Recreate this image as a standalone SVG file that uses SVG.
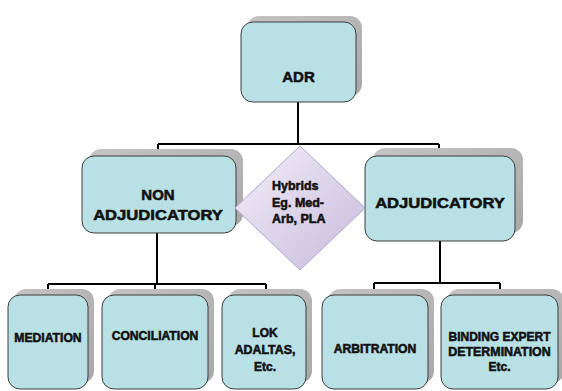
<svg xmlns="http://www.w3.org/2000/svg" width="562" height="391" viewBox="0 0 562 391">
<defs>
<linearGradient id="sh" x1="0" y1="0" x2="1" y2="1">
<stop offset="0" stop-color="#c4c4c4"/>
<stop offset="1" stop-color="#a8a8a8"/>
</linearGradient>
<linearGradient id="dg" x1="0" y1="0" x2="1" y2="1">
<stop offset="0" stop-color="#f2eef8"/>
<stop offset="1" stop-color="#c6bbdc"/>
</linearGradient>
<style>
.shadow{fill:url(#sh);}
.box{fill:#b9e1e5;stroke:#3c3c3c;stroke-width:1;}
text{font-family:"Liberation Sans",Arial,sans-serif;font-weight:bold;fill:#111;stroke:#111;stroke-width:0.55;text-anchor:middle;}
.big{font-size:15px;}
.sm{font-size:12px;}
.dia{font-size:12.5px;text-anchor:start;}
.conn{fill:none;stroke:#000;stroke-width:2;}
</style>
</defs>
<rect width="562" height="391" fill="#fff"/>
<g id="connectors">
<path class="conn" d="M298,102 V144 M158,144 H439 M158,144 V156 M439,144 V156"/>
<path class="conn" d="M157,233 V284 M48,284 H266 M48,284 V295 M155,284 V295 M266,284 V295"/>
<path class="conn" d="M440,241 V283 M374,283 H500 M374,283 V295 M500,283 V295"/>
</g>
<g id="adr">
<rect class="shadow" x="247" y="16" width="115" height="80" rx="12"/>
<rect class="box" x="241" y="22" width="115" height="80" rx="12"/>
<text class="big" x="298.5" y="82" textLength="32.5" lengthAdjust="spacingAndGlyphs">ADR</text>
</g>
<g id="non-adjudicatory">
<rect class="shadow" x="89" y="149" width="154" height="77" rx="12"/>
<rect class="box" x="82" y="156" width="154" height="77" rx="12"/>
<text class="big" x="158" y="200" textLength="33.3" lengthAdjust="spacingAndGlyphs">NON</text>
<text class="big" x="158" y="220" textLength="129.7" lengthAdjust="spacingAndGlyphs">ADJUDICATORY</text>
</g>
<g id="adjudicatory">
<rect class="shadow" x="373" y="148" width="150" height="85" rx="12"/>
<rect class="box" x="365" y="156" width="150" height="85" rx="12"/>
<text class="big" x="440" y="208" textLength="129.7" lengthAdjust="spacingAndGlyphs">ADJUDICATORY</text>
</g>
<g id="hybrids">
<polygon points="300,146 365,208 300,270 235,208" fill="url(#dg)" stroke="#b2a4d0" stroke-width="1"/>
<text class="dia" x="272" y="190" textLength="46.5" lengthAdjust="spacingAndGlyphs">Hybrids</text>
<text class="dia" x="272" y="207" textLength="52" lengthAdjust="spacingAndGlyphs">Eg. Med-</text>
<text class="dia" x="272" y="223" textLength="53.5" lengthAdjust="spacingAndGlyphs">Arb, PLA</text>
</g>
<g id="mediation">
<rect class="shadow" x="14" y="289" width="80" height="94" rx="12"/>
<rect class="box" x="8" y="295" width="80" height="94" rx="12"/>
<text class="sm" x="48" y="342" textLength="67.3" lengthAdjust="spacingAndGlyphs">MEDIATION</text>
</g>
<g id="conciliation">
<rect class="shadow" x="108" y="289" width="106" height="94" rx="12"/>
<rect class="box" x="102" y="295" width="106" height="94" rx="12"/>
<text class="sm" x="155" y="340" textLength="86.7" lengthAdjust="spacingAndGlyphs">CONCILIATION</text>
</g>
<g id="lok-adaltas">
<rect class="shadow" x="228" y="289" width="84" height="94" rx="12"/>
<rect class="box" x="222" y="295" width="84" height="94" rx="12"/>
<text class="sm" x="265" y="337" textLength="25.3" lengthAdjust="spacingAndGlyphs">LOK</text>
<text class="sm" x="265" y="354" textLength="60.7" lengthAdjust="spacingAndGlyphs">ADALTAS,</text>
<text class="sm" x="265" y="371" textLength="22" lengthAdjust="spacingAndGlyphs">Etc.</text>
</g>
<g id="arbitration">
<rect class="shadow" x="328" y="289" width="106" height="94" rx="12"/>
<rect class="box" x="322" y="295" width="106" height="94" rx="12"/>
<text class="sm" x="375" y="353" textLength="82.7" lengthAdjust="spacingAndGlyphs">ARBITRATION</text>
</g>
<g id="binding-expert">
<rect class="shadow" x="447" y="289" width="117" height="94" rx="12"/>
<rect class="box" x="441" y="295" width="117" height="94" rx="12"/>
<text class="sm" x="499.5" y="341" textLength="102" lengthAdjust="spacingAndGlyphs">BINDING EXPERT</text>
<text class="sm" x="499.5" y="356" textLength="102.4" lengthAdjust="spacingAndGlyphs">DETERMINATION</text>
<text class="sm" x="499.5" y="371" textLength="22" lengthAdjust="spacingAndGlyphs">Etc.</text>
</g>
</svg>
